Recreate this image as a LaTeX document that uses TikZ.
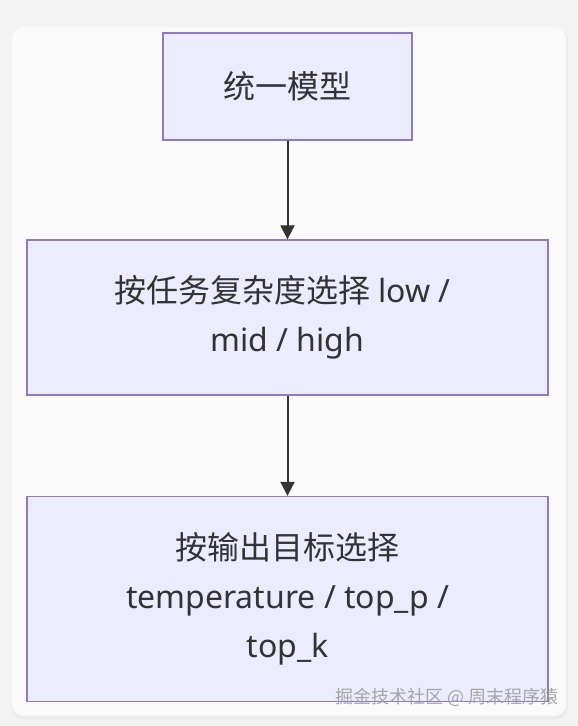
\documentclass[tikz,border=0pt]{standalone}
\usepackage{fontspec}
\setmainfont{Noto Sans}
\newfontfamily\cjk{Noto Sans CJK SC}
\usetikzlibrary{arrows.meta,shadows}
\definecolor{nodefill}{HTML}{ECECFF}
\definecolor{nodeborder}{HTML}{8F78C4}
\definecolor{edgecol}{HTML}{333333}
\definecolor{txtcol}{HTML}{333333}
\definecolor{outerbg}{HTML}{F3F3F3}
\definecolor{cardbg}{HTML}{FAFAFA}
\tikzset{
  flowbox/.style={draw=nodeborder, fill=nodefill, line width=1.3pt, inner sep=0pt,
    text=txtcol, align=center, font=\fontsize{32}{49}\selectfont},
  flowedge/.style={draw=edgecol, line width=2pt, -{Triangle[length=14pt,width=14pt]}}
}
\begin{document}
\begin{tikzpicture}[x=1pt,y=-1pt]
\fill[outerbg] (0,0) rectangle (578,726);
\useasboundingbox (0,0) rectangle (578,726);
\fill[black!8, rounded corners=12pt] (12,29) rectangle (568,719);
\fill[cardbg, rounded corners=12pt] (12,27) rectangle (566,716);
\node[flowbox, minimum width=249pt, minimum height=107pt] (a) at (287.5,86.5) {\cjk 统一模型};
\node[flowbox, minimum width=521pt, minimum height=155pt] (b) at (287.5,317.5)
  {{\cjk 按任务复杂度选择} low /\hspace*{10pt}\\mid / high};
\node[flowbox, minimum width=521pt, minimum height=205pt] (c) at (287.5,599)
  {{\cjk 按输出目标选择}\\temperature / top\_p /\\top\_k};
\draw[flowedge] (a.south) -- (b.north);
\draw[flowedge] (b.south) -- (c.north);
\node[text=gray!75, opacity=0.9, font=\cjk\fontsize{18}{20}\selectfont, anchor=east] (wm) at (562,697) {掘金技术社区 @ 周末程序猿};
\end{tikzpicture}
\end{document}
